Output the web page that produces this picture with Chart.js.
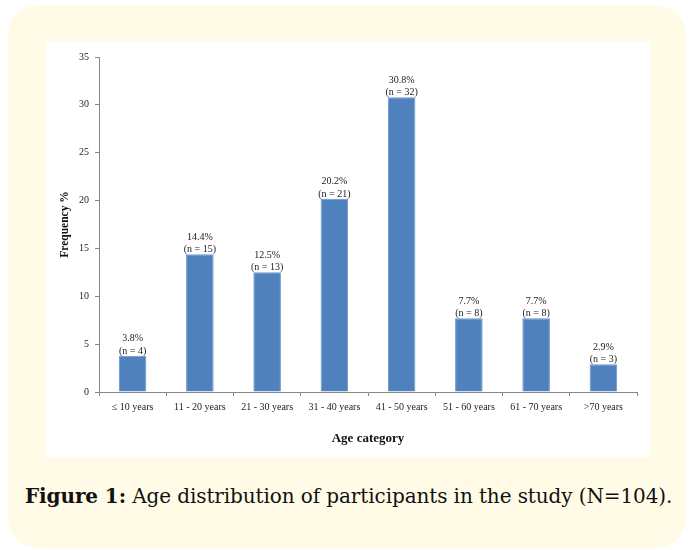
<!DOCTYPE html>
<html>
<head>
<meta charset="utf-8">
<script src="https://cdn.jsdelivr.net/npm/chart.js@4.4.0/dist/chart.umd.min.js"></script>
<style>
  html, body { margin: 0; padding: 0; background: #ffffff; }
  #page { position: relative; width: 689px; height: 550px; overflow: hidden; }
  #box { position: absolute; left: 8px; top: 5px; width: 678px; height: 543px; border-radius: 30px; background: #FFFBE7; }
  #panel { position: absolute; left: 46px; top: 41px; width: 604px; height: 416px; background: #ffffff; }
  #caption { position: absolute; left: 25px; top: 484px; width: 660px; font-family: "DejaVu Serif", "Liberation Serif", serif; font-size: 20px; color: #111; white-space: nowrap; letter-spacing: -0.1px; }
  #caption b { font-weight: bold; }
</style>
</head>
<body>
<div id="page">
  <div id="box"></div>
  <div id="panel"><canvas id="chart" width="604" height="416"></canvas></div>
  <div id="caption"><b>Figure 1:</b> Age distribution of participants in the study (N=104).</div>
</div>
<script>
const categories = ["\u2264 10 years", "11 - 20 years", "21 - 30 years", "31 - 40 years", "41 - 50 years", "51 - 60 years", "61 - 70 years", ">70 years"];
const percentages = [3.8, 14.4, 12.5, 20.2, 30.8, 7.7, 7.7, 2.9];
const counts = [4, 15, 13, 21, 32, 8, 8, 3];
const yTicks = [0, 5, 10, 15, 20, 25, 30, 35];

const FONT = "'Liberation Serif', 'Times New Roman', serif";
const TEXT = "#222222";
const AXIS = "#868686";

const labelPlugin = {
  id: 'barLabels',
  afterDatasetsDraw(chart) {
    const ctx = chart.ctx;
    const meta = chart.getDatasetMeta(0);
    ctx.save();
    ctx.font = "10px " + FONT;
    ctx.fillStyle = TEXT;
    ctx.textAlign = 'center';
    ctx.textBaseline = 'bottom';
    meta.data.forEach((bar, i) => {
      ctx.fillText(percentages[i].toFixed(1) + '%', bar.x, bar.y - 12);
      ctx.fillText('(n = ' + counts[i] + ')', bar.x, bar.y + 0.5);
    });
    ctx.restore();
  }
};

new Chart(document.getElementById('chart'), {
  type: 'bar',
  data: {
    labels: categories,
    datasets: [{
      data: percentages,
      backgroundColor: '#4F81BD',
      borderColor: '#6A95CC',
      borderWidth: 1,
      barPercentage: 0.41,
      categoryPercentage: 1.0
    }]
  },
  options: {
    responsive: false,
    animation: false,
    devicePixelRatio: 1,
    layout: { padding: { top: 16, right: 13, left: 0, bottom: 0 } },
    plugins: { legend: { display: false }, tooltip: { enabled: false } },
    scales: {
      x: {
        afterFit(s) { s.height = 65; },
        grid: { display: true, drawOnChartArea: false, drawTicks: true, tickLength: 4, color: AXIS, offset: true },
        border: { display: true, color: AXIS, width: 1 },
        ticks: { color: TEXT, font: { family: FONT, size: 10 }, padding: 5, maxRotation: 0, autoSkip: false },
        title: { display: true, text: 'Age category', color: '#111', font: { family: FONT, size: 13, weight: 'bold' }, padding: { top: 4, bottom: 11 } }
      },
      y: {
        min: 0,
        max: 35,
        afterFit(s) { s.width = 53; },
        afterBuildTicks(s) { s.ticks = yTicks.map(v => ({ value: v })); },
        grid: { display: true, drawOnChartArea: false, drawTicks: true, tickLength: 4, color: AXIS },
        border: { display: true, color: AXIS, width: 1 },
        ticks: { color: TEXT, font: { family: FONT, size: 10 }, padding: 6 },
        title: { display: true, text: 'Frequency %', color: '#111', font: { family: FONT, size: 11.5, weight: 'bold' }, padding: { top: 12, bottom: 0 } }
      }
    }
  },
  plugins: [labelPlugin]
});
</script>
</body>
</html>
